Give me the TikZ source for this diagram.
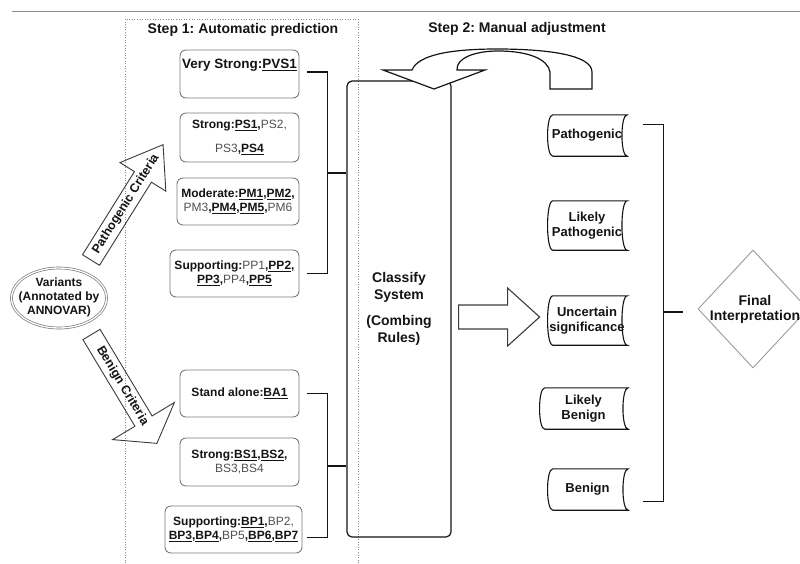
\documentclass[tikz,border=0pt]{standalone}
\usepackage{fontspec}
\setmainfont{Liberation Sans}
\usetikzlibrary{shapes.geometric,calc}
\definecolor{boxgray}{HTML}{7A7A7A}
\definecolor{txtgray}{HTML}{505050}
\definecolor{diagray}{HTML}{9A9A9A}
\definecolor{ink}{HTML}{141414}
\definecolor{dotgray}{HTML}{8A8A8A}
\definecolor{arrgray}{HTML}{3A3A3A}
\newcommand{\bu}[1]{\textbf{\underline{#1}}}
\newcommand{\rg}[1]{{\mdseries\color{txtgray}#1}}
\newcommand{\mydocshape}[1]{\draw[docline] ([xshift=6pt]#1.north west) -- (#1.north east) .. controls ([xshift=-7pt]#1.north east) and ([xshift=-7pt]#1.south east) .. (#1.south east) -- ([xshift=6pt]#1.south west) .. controls ([xshift=-1pt]#1.south west) and ([xshift=-1pt]#1.north west) .. ([xshift=6pt]#1.north west) -- cycle;}
\frenchspacing
\begin{document}
\begin{tikzpicture}[x=1pt,y=-1pt,
  every node/.style={text=ink},
  crit/.style={draw=boxgray, line width=0.9pt, rounded corners=6pt, inner sep=0pt, align=center,
    font=\fontsize{12}{14}\selectfont\bfseries},
  lbl/.style={inner sep=0pt, align=center, font=\fontsize{12}{14}\selectfont\bfseries},
  title/.style={inner sep=0pt, font=\fontsize{14}{16}\selectfont\bfseries},
  conn/.style={draw=ink, line width=1.2pt},
  docline/.style={draw=ink, line width=1.1pt},
  doc/.style={inner sep=0pt, align=center, font=\fontsize{13}{15}\selectfont\bfseries},
  hollow/.style={draw=arrgray, line width=0.9pt, line join=miter},
  crittext/.style={inner sep=0pt, font=\fontsize{12.5}{14}\selectfont\bfseries}
]
\useasboundingbox (0,0) rectangle (800,563);
\clip (0,0) rectangle (800,563);

% top rule
\draw[draw=dotgray, line width=0.9pt] (12,11) -- (800,11);

% dotted frame of step 1
\draw[draw=dotgray, line width=0.9pt, dash pattern=on 1pt off 1.6pt] (125,566) -- (125,19) -- (358,19) -- (358,566);

% titles
\node[title] (t1) at (243,30) {Step 1: Automatic prediction};
\node[title] (t2) at (517,29) {Step 2: Manual adjustment};

% variants ellipse
\node[ellipse, draw=boxgray, double=white, double distance=1.3pt, line width=0.7pt,
  minimum width=95pt, minimum height=60pt, inner sep=0pt] (var) at (59,298) {};
\node[lbl] (vart) at (59,297) {Variants\\(Annotated by\\ANNOVAR)};

% pathogenic arrow
\begin{scope}[shift={(91,260)}, rotate=58]
  \draw[hollow] (0,-10) -- (98,-10) -- (98,-27) -- (136,0) -- (98,27) -- (98,10) -- (0,10) -- cycle;
  \node[crittext, rotate=58] (pct) at (66,0) {Pathogenic Criteria};
\end{scope}
% benign arrow
\begin{scope}[shift={(91.5,334.5)}, rotate=-59]
  \draw[hollow] (0,-10) -- (101,-10) -- (101,-36) -- (127,0) -- (101,36) -- (101,10) -- (0,10) -- cycle;
  \node[crittext, rotate=-59] (bct) at (60,0) {Benign Criteria};
\end{scope}

% pathogenic criteria boxes
\node[crit, minimum width=119pt, minimum height=48pt] (vs) at (239.5,74) {};
\node[lbl, font=\fontsize{13.5}{15}\selectfont\bfseries] (vst) at (239.5,65) {Very Strong:\bu{PVS1}};
\node[crit, minimum width=119pt, minimum height=49pt] (ps) at (239.5,137.5)
  {Strong:\bu{PS1},\rg{PS2,}\\[10pt]\rg{PS3},\bu{PS4}};
\node[crit, minimum width=122pt, minimum height=47pt] (pm) at (238,201.5)
  {Moderate:\bu{PM1},\bu{PM2},\\\rg{PM3},\bu{PM4},\bu{PM5},\rg{PM6}};
\node[crit, minimum width=129pt, minimum height=47pt] (pp) at (234.5,273.5)
  {Supporting:\rg{PP1},\bu{PP2},\\\bu{PP3},\rg{PP4},\bu{PP5}};

% benign criteria boxes
\node[crit, minimum width=119pt, minimum height=47pt] (ba) at (239.5,393.5) {Stand alone:\bu{BA1}};
\node[crit, minimum width=119pt, minimum height=48pt] (bs) at (239.5,462)
  {Strong:\bu{BS1},\bu{BS2},\\\rg{BS3,BS4}};
\node[crit, minimum width=137pt, minimum height=47pt] (bp) at (233.5,529.5)
  {Supporting:\bu{BP1},\rg{BP2,}\\\bu{BP3},\bu{BP4},\rg{BP5},\bu{BP6},\bu{BP7}};

% classify system
\node[draw=ink, line width=1.2pt, rounded corners=5pt, minimum width=104pt, minimum height=456pt,
  inner sep=0pt, align=center, font=\fontsize{14}{17}\selectfont\bfseries] (cls) at (399,309)
  {Classify\\System\\[9pt](Combing\\Rules)};

% brackets to classify system
\draw[conn] ([xshift=8pt,yshift=2pt]vs.east) -- ++(20,0) |- ([xshift=8pt]pp.east);
\coordinate (pbm) at (327,173);
\draw[conn] (pbm) -- (pbm -| cls.west);
\draw[conn] ([xshift=8pt]ba.east) -- ++(20,0) |- ([xshift=5pt,yshift=-8pt]bp.east);
\coordinate (bbm) at (327,466);
\draw[conn] (bbm) -- (bbm -| cls.west);

% step 2 curved arrow
\draw[draw=ink, line width=1.2pt, fill=white, line join=miter]
  (383,70) -- (412,70) .. controls (418,55) and (450,49) .. (497,49)
  .. controls (548,49) and (592,55) .. (592,72) -- (592,89) -- (550,89) -- (550,72)
  .. controls (548,59) and (528,51) .. (498,51)
  .. controls (475,51) and (456,58) .. (457,70) -- (485,70) -- (434,89) -- cycle;

% class labels
\node[doc, minimum width=80pt, minimum height=41pt] (pat) at (587,135.5) {Pathogenic};
\node[doc, minimum width=80pt, minimum height=49pt] (lpat) at (587,225.5) {Likely\\Pathogenic};
\node[doc, minimum width=80pt, minimum height=49pt] (unc) at (587,320.5) {Uncertain\\significance};
\node[doc, minimum width=89pt, minimum height=41pt] (lben) at (583.5,408.5) {Likely\\Benign};
\node[doc, minimum width=81pt, minimum height=41pt] (ben) at (587.5,489.5) {Benign};
\mydocshape{pat}
\mydocshape{lpat}
\mydocshape{unc}
\mydocshape{lben}
\mydocshape{ben}

% arrow classify -> labels
\draw[hollow, line width=1.1pt] (cls.east) ++(7,-4) -- ++(49,0) -- ++(0,-17) -- ++(32,29)
  -- ++(-32,29) -- ++(0,-17) -- ++(-49,0) -- cycle;

% right bracket
\draw[conn] ([xshift=16pt,yshift=11pt]pat.east) -- ++(20,0) |- ([xshift=15pt,yshift=-12pt]ben.east);
\coordinate (rbm) at (663,312);
\coordinate (rbt) at (683,312);
\draw[conn] (rbm) -- (rbt);

% final interpretation
\node[diamond, draw=diagray, line width=0.9pt, minimum width=110pt, minimum height=118pt, inner sep=0pt] (fi) at (753,309) {};
\node[inner sep=0pt, align=center, font=\fontsize{14}{15}\selectfont\bfseries] (fit) at (755,309.5) {Final\\Interpretation};
\end{tikzpicture}
\end{document}
